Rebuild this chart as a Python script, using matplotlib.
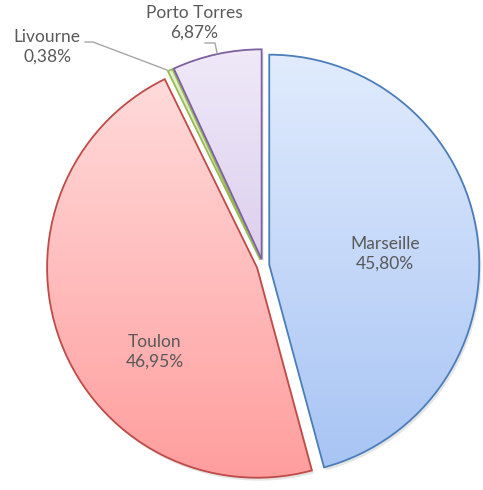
import numpy as np
import matplotlib
matplotlib.use('Agg')
import matplotlib.pyplot as plt
from matplotlib.colors import LinearSegmentedColormap

ports = ['Marseille', 'Toulon', 'Livourne', 'Porto Torres']
shares = [45.80, 46.95, 0.38, 6.87]

# gradient top/bottom colours and edge colour per slice
tops = ['#e2ecfd', '#ffdfdf', '#e4f0cf', '#efe9f8']
bottoms = ['#a6c3f4', '#ff9d9d', '#b9d888', '#c9b5e4']
edges = ['#4a7ebb', '#be4b48', '#98b954', '#7d60a0']

W, H = 483, 490
fig = plt.figure(figsize=(W / 100, H / 100), dpi=100)
ax = fig.add_axes([0, 0, 1, 1])

cx, cy, r = 263, H - 265.5, 210
# explode is in data units here (pixels)
wedges, _ = ax.pie(shares, startangle=90, counterclock=False,
                   explode=[6.3] * 4, radius=r, center=(cx, cy),
                   wedgeprops=dict(linewidth=1.3), frame=True)
ax.set_xlim(0, W)
ax.set_ylim(0, H)
ax.set_aspect('equal')
ax.axis('off')

grad = np.linspace(0, 1, 256).reshape(-1, 1)
y_top, y_bot = cy + r + 6, cy - r - 6
for w, t, b, e in zip(wedges, tops, bottoms, edges):
    # soft shadow
    sh = matplotlib.patches.Wedge((w.center[0] + 2, w.center[1] - 3), w.r,
                                  w.theta1, w.theta2, facecolor='#000000',
                                  alpha=0.10, edgecolor='none', zorder=0.5)
    ax.add_patch(sh)
    w.set_facecolor('none')
    w.set_edgecolor(e)
    w.set_zorder(3)
    cmap = LinearSegmentedColormap.from_list('g', [t, b])
    im = ax.imshow(grad, cmap=cmap, aspect='auto', zorder=2,
                   extent=[cx - r - 10, cx + r + 10, y_bot, y_top],
                   origin='upper', interpolation='bilinear')
    im.set_clip_path(w)

ax.set_xlim(0, W)
ax.set_ylim(0, H)

txt = dict(fontsize=12.5, color='#595959', family=['Lato', 'DejaVu Sans'],
           ha='center', va='center', linespacing=1.3)
lab = [f"{p}\n{v:.2f}%".replace('.', ',') for p, v in zip(ports, shares)]
ax.text(385, H - 254, lab[0], **txt)
ax.text(155, H - 352, lab[1], **txt)
ax.text(47, H - 47, lab[2], **txt)
ax.text(194, H - 23, lab[3], **txt)

# leader lines
ax.plot([85, 93, 167], [H - 42, H - 42, H - 70], color='#a6a6a6', lw=1, zorder=4)
ax.plot([205, 215, 217], [H - 43, H - 43, H - 53], color='#a6a6a6', lw=1, zorder=4)

fig.savefig('out.png', dpi=100)
